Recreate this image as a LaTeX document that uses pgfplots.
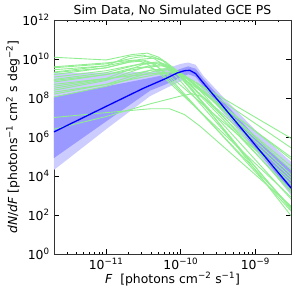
\documentclass[border=0pt]{standalone}
\usepackage{fontspec}
\setmainfont{DejaVu Sans}
\usepackage{pgfplots}
\pgfplotsset{compat=1.18}
\definecolor{lgreen}{HTML}{90EE90}
\definecolor{bdark}{HTML}{9999FF}
\definecolor{blight}{HTML}{CCCCFF}
\newcommand{\sups}[1]{\textsuperscript{#1}}
\pgfplotsset{/pgfplots/table/lg/.style={x expr={10^(\thisrowno{0})}, y expr={10^(\thisrowno{1})}, header=false, row sep=\\}}
\pgfplotsset{gl/.style={lgreen, line width=0.9pt}}
\begin{document}
\fontsize{12.4}{14}\selectfont
\begin{tikzpicture}
\useasboundingbox (-54pt,-40pt) rectangle (242pt,254pt);
\begin{axis}[
  at={(0pt,0pt)}, anchor=south west,
  xmode=log, ymode=log, scale only axis, width=237pt, height=234pt,
  xmin=2e-12, xmax=3e-9, ymin=1, ymax=1e12,
  xtick={1e-11,1e-10,1e-9},
  xticklabels={10\sups{−11},10\sups{−10},10\sups{−9}},
  minor xtick={2e-12,3e-12,4e-12,5e-12,6e-12,7e-12,8e-12,9e-12,2e-11,3e-11,4e-11,5e-11,6e-11,7e-11,8e-11,9e-11,2e-10,3e-10,4e-10,5e-10,6e-10,7e-10,8e-10,9e-10,2e-9,3e-9},
  ytick={1,1e2,1e4,1e6,1e8,1e10,1e12},
  yticklabels={10\sups{0},10\sups{2},10\sups{4},10\sups{6},10\sups{8},10\sups{10},10\sups{12}},
  yminorticks=false,
  tick align=inside, major tick length=5pt, minor tick length=2.5pt,
  every tick/.style={black, line width=0.6pt},
  axis line style={black!80, line width=0.8pt},
  tick label style={font=\fontsize{12.4}{14}\selectfont},
  label style={font=\fontsize{12.4}{14}\selectfont},
  every axis title shift=0pt,
  title style={font=\fontsize{12.4}{14}\selectfont, at={(axis description cs:0.5,1)}, anchor=base, yshift=5pt},
  title={Sim Data, No Simulated GCE PS},
  xlabel={\textit{F}\ \ [photons cm\sups{−2} s\sups{−1}]},
  ylabel={\textit{dN}/\textit{dF} [photons\sups{−1} cm\sups{2} s deg\sups{−2}]},
  xlabel style={at={(axis description cs:0.5,-0.124)}, anchor=base},
  ylabel style={at={(axis description cs:-0.156,0.5)}, anchor=base},
  clip=true,
]
% 95% band
\addplot[fill=blight, draw=none] table[lg] {
-11.70 9.28\\ -10.41 9.33\\ -10.2 9.5\\ -10.0 9.75\\ -9.9 9.82\\ -9.8 9.7\\ -9.7 9.15\\ -9.47 8.2\\ -9.0 6.35\\ -8.52 4.72\\
-8.52 3.0\\ -9.0 5.3\\ -9.47 7.4\\ -9.7 8.4\\ -9.8 8.85\\ -9.95 9.0\\ -10.0 8.85\\ -10.2 8.5\\ -10.41 8.1\\ -11.0 6.4\\ -11.70 4.31\\
};
% 68% band
\addplot[fill=bdark, draw=none] table[lg] {
-11.70 8.07\\ -10.41 9.03\\ -10.2 9.2\\ -10.0 9.5\\ -9.9 9.62\\ -9.8 9.5\\ -9.7 9.0\\ -9.47 8.0\\ -9.0 6.0\\ -8.52 4.3\\
-8.52 3.18\\ -9.0 5.42\\ -9.47 7.58\\ -9.7 8.6\\ -9.8 9.08\\ -9.9 9.22\\ -10.0 9.05\\ -10.2 8.7\\ -10.41 8.38\\ -11.0 6.8\\ -11.70 4.92\\
};
% posterior draws
\addplot[gl] table[lg] {-11.70 10.09\\ -11.0 9.95\\ -10.65 10.23\\ -10.45 10.30\\ -10.30 10.10\\ -10.10 9.56\\ -8.52 4.50\\};
\addplot[gl] table[lg] {-11.70 9.55\\ -11.0 9.75\\ -10.6 10.08\\ -10.4 10.15\\ -10.25 9.95\\ -10.05 9.24\\ -8.52 2.81\\};
\addplot[gl] table[lg] {-11.70 9.33\\ -11.0 9.65\\ -10.7 10.13\\ -10.5 10.2\\ -10.35 10.0\\ -10.15 9.52\\ -8.52 4.96\\};
\addplot[gl] table[lg] {-11.70 9.2\\ -11.0 9.55\\ -10.55 9.98\\ -10.35 10.05\\ -10.2 9.85\\ -10.0 9.07\\ -8.52 2.26\\};
\addplot[gl] table[lg] {-11.70 8.6\\ -11.0 9.0\\ -10.5 9.73\\ -10.3 9.8\\ -10.15 9.6\\ -9.95 9.16\\ -8.52 5.44\\};
\addplot[gl] table[lg] {-11.70 9.07\\ -11.0 9.4\\ -10.5 9.78\\ -10.3 9.85\\ -10.15 9.65\\ -9.95 9.0\\ -8.52 3.57\\};
\addplot[gl] table[lg] {-11.70 8.95\\ -11.0 9.3\\ -10.55 9.73\\ -10.35 9.8\\ -10.2 9.6\\ -10.0 8.85\\ -8.52 2.34\\};
\addplot[gl] table[lg] {-11.70 8.4\\ -11.0 8.9\\ -10.45 9.63\\ -10.25 9.7\\ -10.1 9.5\\ -9.9 8.99\\ -8.52 4.85\\};
\addplot[gl] table[lg] {-11.70 8.82\\ -11.0 9.2\\ -10.45 9.58\\ -10.25 9.65\\ -10.1 9.45\\ -9.9 8.77\\ -8.52 3.25\\};
\addplot[gl] table[lg] {-11.70 8.2\\ -11.0 8.7\\ -10.4 9.43\\ -10.2 9.5\\ -10.05 9.3\\ -9.85 8.92\\ -8.52 5.93\\};
\addplot[gl] table[lg] {-11.70 8.5\\ -11.0 8.95\\ -10.4 9.43\\ -10.2 9.5\\ -10.05 9.3\\ -9.85 8.47\\ -8.52 1.95\\};
\addplot[gl] table[lg] {-11.70 8.05\\ -11.0 8.6\\ -10.35 9.38\\ -10.15 9.45\\ -10.0 9.25\\ -9.8 8.67\\ -8.52 4.32\\};
\addplot[gl] table[lg] {-11.70 8.7\\ -11.0 9.0\\ -10.3 9.28\\ -10.1 9.35\\ -9.95 9.15\\ -9.75 8.42\\ -8.52 3.13\\};
\addplot[gl] table[lg] {-11.70 8.3\\ -11.0 8.7\\ -10.3 9.23\\ -10.1 9.3\\ -9.95 9.1\\ -9.75 8.49\\ -8.52 4.06\\};
\addplot[gl] table[lg] {-11.70 9.45\\ -11.0 9.65\\ -10.7 9.88\\ -10.5 9.95\\ -10.35 9.75\\ -10.15 9.04\\ -8.52 2.19\\};
\addplot[gl] table[lg] {-11.70 9.6\\ -11.0 9.8\\ -10.8 9.88\\ -10.6 9.95\\ -10.45 9.75\\ -10.25 9.14\\ -8.52 2.91\\};
\addplot[gl] table[lg] {-11.70 8.9\\ -11.0 9.2\\ -10.65 9.53\\ -10.45 9.6\\ -10.3 9.4\\ -10.1 8.72\\ -8.52 2.4\\};
\addplot[gl] table[lg] {-11.70 9.3\\ -11.0 9.55\\ -10.7 9.83\\ -10.5 9.9\\ -10.35 9.7\\ -10.15 9.14\\ -8.52 3.76\\};
\addplot[gl] table[lg] {-11.70 7.0\\ -11.0 7.25\\ -10.4 7.45\\ -10.15 7.45\\ -9.95 7.15\\ -9.74 6.55\\ -8.52 2.45\\};
\addplot[gl] table[lg] {-11.70 6.4\\ -11.0 7.05\\ -10.41 7.7\\ -10.0 8.1\\ -9.85 8.22\\ -9.7 8.05\\ -9.5 7.4\\ -8.52 3.9\\};
% median
\addplot[blue, line width=1.3pt] table[lg] {
-11.70 6.26\\ -11.0 7.57\\ -10.5 8.50\\ -10.2 9.0\\ -10.05 9.28\\ -9.95 9.40\\ -9.88 9.42\\ -9.80 9.25\\ -9.70 8.78\\ -9.47 7.74\\ -9.0 5.58\\ -8.52 3.38\\
};
\end{axis}
\end{tikzpicture}
\end{document}
